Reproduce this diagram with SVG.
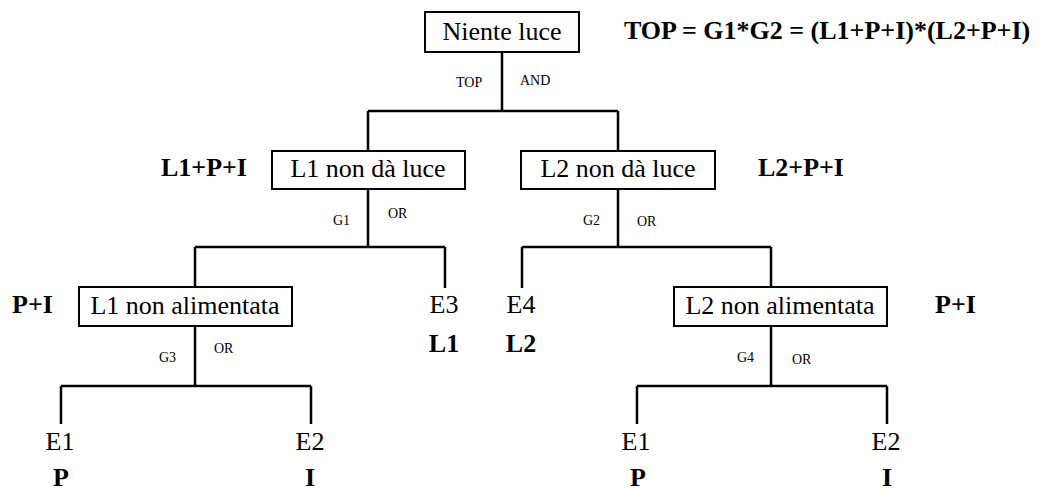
<svg xmlns="http://www.w3.org/2000/svg" width="1050" height="491" viewBox="0 0 1050 491">
<style>
.box{fill:#fff;stroke:#000;stroke-width:2}
.ln{fill:none;stroke:#000;stroke-width:2.5}
.t,.b,.s{font-family:"Liberation Serif","Times New Roman",Times,"DejaVu Serif","Noto Serif",serif;fill:#000}
.t{font-size:26px}
.b{font-size:26px;font-weight:bold}
.s{font-size:14px}
.m{text-anchor:middle}
</style>
<rect width="1050" height="491" fill="#fff"/>
<g id="connectors">
<path class="ln" d="M502 52V111M368 111H618M368 111V151M618 111V151"/>
<path class="ln" d="M368 189V247M195 247H445M195 247V287M445 247V288"/>
<path class="ln" d="M618 189V247M522 247H771M522 247V288M771 247V288"/>
<path class="ln" d="M195 326V386M61 386H311M61 386V424M311 386V424"/>
<path class="ln" d="M771 327V386M637 386H887M637 386V424M887 386V424"/>
</g>
<g id="top">
<rect class="box" x="425" y="12" width="154" height="40"/>
<text class="t m" x="502" y="40">Niente luce</text>
<text class="s" x="456" y="87">TOP</text>
<text class="s" x="520" y="85">AND</text>
<text class="b" x="624" y="39">TOP = G1*G2 = (L1+P+I)*(L2+P+I)</text>
</g>
<g id="g1">
<rect class="box" x="272" y="151" width="193" height="38"/>
<text class="t m" x="368" y="177">L1 non dà luce</text>
<text class="b" x="161" y="176">L1+P+I</text>
<text class="s" x="333" y="225">G1</text>
<text class="s" x="388" y="218">OR</text>
</g>
<g id="g2">
<rect class="box" x="521" y="151" width="194" height="38"/>
<text class="t m" x="618" y="177">L2 non dà luce</text>
<text class="b" x="758" y="176">L2+P+I</text>
<text class="s" x="583" y="225">G2</text>
<text class="s" x="637" y="226">OR</text>
</g>
<g id="g3">
<rect class="box" x="79" y="287" width="213" height="39"/>
<text class="t m" x="185" y="314">L1 non alimentata</text>
<text class="b" x="12" y="313">P+I</text>
<text class="s" x="159" y="362">G3</text>
<text class="s" x="214" y="353">OR</text>
</g>
<g id="g4">
<rect class="box" x="674" y="287" width="213" height="39"/>
<text class="t m" x="780" y="314">L2 non alimentata</text>
<text class="b" x="935" y="313">P+I</text>
<text class="s" x="737" y="362">G4</text>
<text class="s" x="792" y="364">OR</text>
</g>
<g id="e3">
<text class="t m" x="444" y="313">E3</text>
<text class="b m" x="444" y="352">L1</text>
</g>
<g id="e4">
<text class="t m" x="521" y="313">E4</text>
<text class="b m" x="521" y="352">L2</text>
</g>
<g id="e1a">
<text class="t m" x="60" y="450">E1</text>
<text class="b m" x="61" y="486">P</text>
</g>
<g id="e2a">
<text class="t m" x="310" y="450">E2</text>
<text class="b m" x="310" y="486">I</text>
</g>
<g id="e1b">
<text class="t m" x="636" y="450">E1</text>
<text class="b m" x="638" y="486">P</text>
</g>
<g id="e2b">
<text class="t m" x="886" y="450">E2</text>
<text class="b m" x="887" y="486">I</text>
</g>
</svg>
